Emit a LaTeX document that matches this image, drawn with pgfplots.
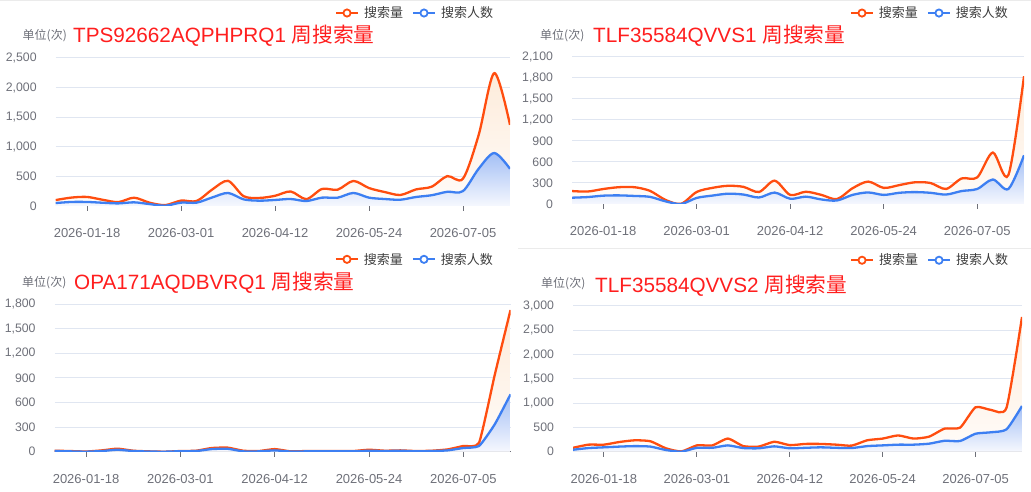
\documentclass[border=0pt]{standalone}
\usepackage{fontspec}
\setmainfont{Liberation Sans}
\newfontfamily\cjk{Noto Sans CJK SC}
\usepackage{pgfplots}
\usepackage{pgfplotstable}
\pgfplotsset{compat=1.18}

\definecolor{cOr}{HTML}{FF4D0F}
\definecolor{cBl}{HTML}{3D7FF2}
\definecolor{cGrid}{HTML}{E0E6F1}
\definecolor{cAx}{HTML}{6E7079}
\definecolor{cTitle}{HTML}{FF1E1E}
\definecolor{cLeg}{HTML}{3C3C3C}
\definecolor{cOrFill}{HTML}{FDEBDA}
\definecolor{cOrFillB}{HTML}{FFFCF9}
\definecolor{cBlFill}{HTML}{A3BFF5}
\definecolor{cBlFillB}{HTML}{F6F8FE}
\definecolor{cSep}{HTML}{EBEBEB}

% x  search  people
\pgfplotstableread{
x a b
0 100 50
1 142 68
2 153 68
3 105 55
4 66 44
5 140 62
6 55 32
7 15 5
8 91 57
9 85 57
10 280 145
11 425 220
12 165 112
13 136 90
14 172 102
15 245 118
16 116 84
17 288 141
18 276 141
19 423 220
20 303 141
21 236 118
22 186 106
23 280 152
24 326 182
25 505 240
26 462 252
27 1200 630
28 2245 895
29 1370 628
}\tA

\pgfplotstableread{
x a b
0 185 90
1 178 99
2 214 119
3 240 123
4 240 115
5 188 102
6 58 38
7 3 0
8 172 87
9 230 120
10 260 147
11 245 135
12 172 93
13 333 163
14 130 75
15 175 105
16 130 65
17 70 50
18 225 130
19 320 165
20 230 130
21 270 160
22 310 170
23 300 160
24 215 135
25 365 185
26 380 215
27 735 350
28 415 215
29 1825 695
}\tB

\pgfplotstableread{
x a b
0 12 8
1 8 4
2 2 0
3 16 8
4 37 24
5 12 8
6 4 2
7 0 0
8 8 6
9 12 8
10 45 32
11 50 36
12 12 4
13 8 4
14 32 16
15 4 2
16 8 4
17 8 4
18 8 4
19 8 4
20 24 12
21 12 8
22 16 12
23 8 4
24 12 8
25 28 16
26 70 45
27 110 70
28 940 335
29 1730 700
}\tC

\pgfplotstableread{
x a b
0 80 40
1 145 75
2 145 90
3 200 105
4 235 115
5 215 105
6 70 35
7 5 0
8 130 80
9 130 80
10 270 130
11 115 75
12 105 70
13 205 110
14 135 70
15 160 80
16 160 90
17 145 80
18 125 75
19 235 115
20 270 130
21 335 145
22 270 145
23 310 165
24 475 225
25 495 220
26 915 370
27 860 400
28 905 460
29 2775 940
}\tD

\pgfplotsset{
  panel/.style={
    scale only axis,
    xmin=0, xmax=29, ymin=0,
    axis x line*=bottom, axis y line*=left,
    x axis line style={draw=cAx, line width=1pt, -},
    y axis line style={draw=none},
    xtick={2,8,14,20,26},
    xticklabels={2026-01-18,2026-03-01,2026-04-12,2026-05-24,2026-07-05},
    tick align=outside,
    major tick length=5pt,
    xtick style={draw=cAx, line width=1pt},
    ytick style={draw=none},
    ymajorgrids,
    grid style={draw=cGrid, line width=1pt},
    tick label style={text=cAx},
    xticklabel style={font=\fontsize{13}{15}\selectfont, yshift=-14pt},
    yticklabel style={font=\fontsize{12.3}{14}\selectfont, xshift=-10.5pt},
    /pgf/number format/assume math mode=true,
    /pgf/number format/1000 sep={,},
    scaled y ticks=false,
    legend columns=2,
    legend style={draw=none, fill=none, inner sep=0pt, outer sep=0pt,
      anchor=west, font=\cjk\fontsize{13}{13}\selectfont, text=cLeg,
      nodes={inner sep=0pt},
      /tikz/every odd column/.append style={column sep=5pt},
      /tikz/every even column/.append style={column sep=9pt}},
    legend image code/.code={
      \draw[##1, line width=2pt] (0pt,0pt) -- (22pt,0pt);
      \draw[##1, fill=white, line width=1.8pt] (11pt,0pt) circle (3.6pt);
    },
  },
  orfill/.style={draw=none, top color=cOrFill, bottom color=cOrFillB, smooth, tension=#1, forget plot},
  blfill/.style={draw=none, top color=cBlFill, bottom color=cBlFillB, smooth, tension=#1, forget plot},
  orline/.style={draw=cOr, line width=2.3pt, smooth, tension=#1},
  blline/.style={draw=cBl, line width=2.3pt, smooth, tension=#1},
  orfill/.default=0.5, blfill/.default=0.5, orline/.default=0.5, blline/.default=0.5,
}

\newcommand{\titlefont}{\fontsize{20.7}{24}\selectfont}
\newcommand{\unitfont}{\cjk\fontsize{12}{14}\selectfont}

\begin{document}
\begin{tikzpicture}
\path[use as bounding box] (0pt,0pt) rectangle (1031pt,492pt);
\draw[cSep, line width=1pt] (0pt,491pt) -- (1031pt,491pt);
\draw[cSep, line width=1pt] (518pt,243pt) -- (1031pt,243pt);

% Panel 1
\begin{axis}[panel, at={(55.7pt,286pt)}, anchor=south west,
  width=454.3pt, height=148pt, ymax=2500, ytick={0,500,...,2500},
  legend style={at={(0.6148,1.304)}}]
\addplot[orfill] table[x=x,y=a]{\tA} \closedcycle;
\addplot[blfill] table[x=x,y=b]{\tA} \closedcycle;
\addplot[orline] table[x=x,y=a]{\tA};
\addlegendentry{搜索量}
\addplot[blline] table[x=x,y=b]{\tA};
\addlegendentry{搜索人数}
\end{axis}

% Panel 2
\begin{axis}[panel, at={(572pt,288pt)}, anchor=south west,
  width=452pt, height=147pt, ymax=2100, ytick={0,300,...,2100},
  legend style={at={(0.615,1.299)}}]
\addplot[orfill] table[x=x,y=a]{\tB} \closedcycle;
\addplot[blfill] table[x=x,y=b]{\tB} \closedcycle;
\addplot[orline] table[x=x,y=a]{\tB};
\addlegendentry{搜索量}
\addplot[blline] table[x=x,y=b]{\tB};
\addlegendentry{搜索人数}
\end{axis}

% Panel 3
\begin{axis}[panel, at={(54.6pt,40.3pt)}, anchor=south west,
  width=455.9pt, height=147.4pt, ymax=1800, ytick={0,300,...,1800},
  legend style={at={(0.615,1.305)}}]
\addplot[orfill=0.3] table[x=x,y=a]{\tC} \closedcycle;
\addplot[blfill=0.3] table[x=x,y=b]{\tC} \closedcycle;
\addplot[orline=0.3] table[x=x,y=a]{\tC};
\addlegendentry{搜索量}
\addplot[blline=0.3] table[x=x,y=b]{\tC};
\addlegendentry{搜索人数}
\end{axis}

% Panel 4
\begin{axis}[panel, at={(573pt,40.3pt)}, anchor=south west,
  width=449pt, height=145.7pt, ymax=3000, ytick={0,500,...,3000},
  legend style={at={(0.617,1.314)}}]
\addplot[orfill=0.35] table[x=x,y=a]{\tD} \closedcycle;
\addplot[blfill=0.35] table[x=x,y=b]{\tD} \closedcycle;
\addplot[orline=0.35] table[x=x,y=a]{\tD};
\addlegendentry{搜索量}
\addplot[blline=0.35] table[x=x,y=b]{\tD};
\addlegendentry{搜索人数}
\end{axis}

% titles and units
\node[anchor=base west, inner sep=0pt, text=cAx, font=\unitfont] at (22.5pt,452.5pt) {单位(次)};
\node[anchor=base west, inner sep=0pt, text=cTitle, font=\titlefont] at (73pt,449.3pt) {TPS92662AQPHPRQ1 {\cjk 周搜索量}};
\node[anchor=base west, inner sep=0pt, text=cAx, font=\unitfont] at (540pt,452.5pt) {单位(次)};
\node[anchor=base west, inner sep=0pt, text=cTitle, font=\titlefont] at (593pt,449.3pt) {TLF35584QVVS1 {\cjk 周搜索量}};
\node[anchor=base west, inner sep=0pt, text=cAx, font=\unitfont] at (22pt,205.2pt) {单位(次)};
\node[anchor=base west, inner sep=0pt, text=cTitle, font=\titlefont] at (74pt,202.7pt) {OPA171AQDBVRQ1 {\cjk 周搜索量}};
\node[anchor=base west, inner sep=0pt, text=cAx, font=\unitfont] at (541pt,204pt) {单位(次)};
\node[anchor=base west, inner sep=0pt, text=cTitle, font=\titlefont] at (595pt,199.3pt) {TLF35584QVVS2 {\cjk 周搜索量}};
\end{tikzpicture}
\end{document}
